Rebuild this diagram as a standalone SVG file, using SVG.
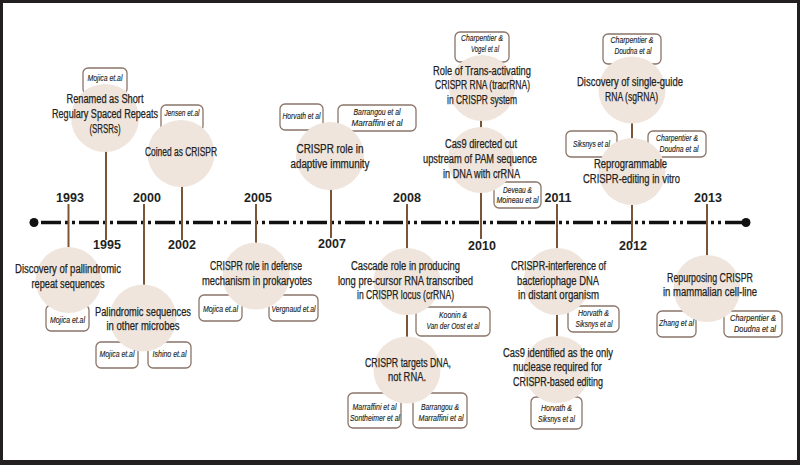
<svg xmlns="http://www.w3.org/2000/svg" width="800" height="465" viewBox="0 0 800 465">
<style>
text{font-family:"Liberation Sans",Arial,sans-serif;fill:#231f20;text-anchor:middle}
.l{font-size:12px;stroke:#231f20;stroke-width:0.25}
.c{font-size:9px;font-style:italic;stroke:#231f20;stroke-width:0.15}
.y{font-size:12.5px;font-weight:bold}
.node circle{fill:#efe5dd}
.box{fill:#fff;stroke:#8b7468;stroke-width:1.3}
.conn line{stroke:#7b5636;stroke-width:2}
</style>
<rect x="0" y="0" width="800" height="465" fill="#231f20"/>
<rect x="3" y="3" width="794" height="457" fill="#fff"/>
<g id="timeline">
<line x1="34" y1="222.5" x2="746" y2="222.5" stroke="#111" stroke-width="3.5" stroke-dasharray="20 4 3 4 3 4" stroke-dashoffset="31"/>
<circle cx="34" cy="222.5" r="4.5" fill="#111"/>
<circle cx="746" cy="222.5" r="4.5" fill="#111"/>
</g>
<g class="conn" id="connectors">
<line x1="68.5" y1="204" x2="68.5" y2="250"/>
<line x1="106" y1="150" x2="106" y2="240"/>
<line x1="144" y1="204" x2="144" y2="288"/>
<line x1="182" y1="185" x2="182" y2="240"/>
<line x1="256" y1="204" x2="256" y2="245"/>
<line x1="331" y1="188" x2="331" y2="238"/>
<line x1="407" y1="204" x2="407" y2="250"/>
<line x1="407" y1="312" x2="407" y2="340"/>
<line x1="481" y1="118" x2="481" y2="130"/>
<line x1="481" y1="190" x2="481" y2="239"/>
<line x1="557" y1="204" x2="557" y2="250"/>
<line x1="557" y1="312" x2="557" y2="339"/>
<line x1="632" y1="121" x2="632" y2="141"/>
<line x1="632" y1="202" x2="632" y2="242"/>
<line x1="707" y1="204" x2="707" y2="258"/>
</g>
<g id="years">
<text class="y" x="70" y="202">1993</text>
<text class="y" x="107" y="249">1995</text>
<text class="y" x="147" y="202">2000</text>
<text class="y" x="182" y="249">2002</text>
<text class="y" x="258" y="202">2005</text>
<text class="y" x="332" y="248">2007</text>
<text class="y" x="407" y="202">2008</text>
<text class="y" x="482" y="250">2010</text>
<text class="y" x="558" y="202">2011</text>
<text class="y" x="633" y="250">2012</text>
<text class="y" x="708" y="202">2013</text>
</g>
<g id="n1993" class="node">
<rect class="box" x="46" y="305" width="43" height="26" rx="5"/>
<circle cx="68.5" cy="280" r="33"/>
<text class="l" x="68" y="273" textLength="106" lengthAdjust="spacingAndGlyphs">Discovery of pallindromic</text>
<text class="l" x="68" y="288" textLength="73" lengthAdjust="spacingAndGlyphs">repeat sequences</text>
<text class="c" x="67.5" y="323" textLength="35" lengthAdjust="spacingAndGlyphs">Mojica et.al</text>
</g>
<g id="n1995" class="node">
<rect class="box" x="83" y="68" width="44" height="26" rx="5"/>
<circle cx="105" cy="118" r="34"/>
<text class="c" x="105" y="81" textLength="35" lengthAdjust="spacingAndGlyphs">Mojica et.al</text>
<text class="l" x="105" y="103" textLength="77" lengthAdjust="spacingAndGlyphs">Renamed as Short</text>
<text class="l" x="105" y="118" textLength="106" lengthAdjust="spacingAndGlyphs">Regulary Spaced Repeats</text>
<text class="l" x="105" y="133" textLength="31" lengthAdjust="spacingAndGlyphs">(SRSRs)</text>
</g>
<g id="n2002" class="node">
<rect class="box" x="161" y="105" width="42" height="26" rx="5"/>
<circle cx="181" cy="153.5" r="33.5"/>
<text class="c" x="182" y="116" textLength="35" lengthAdjust="spacingAndGlyphs">Jensen et.al</text>
<text class="l" x="181" y="156" textLength="72" lengthAdjust="spacingAndGlyphs">Coined as CRISPR</text>
</g>
<g id="n2000" class="node">
<rect class="box" x="96" y="342" width="42" height="26" rx="5"/>
<rect class="box" x="148" y="342" width="43" height="26" rx="5"/>
<circle cx="143" cy="318" r="33.5"/>
<text class="l" x="143" y="316" textLength="96" lengthAdjust="spacingAndGlyphs">Palindromic sequences</text>
<text class="l" x="143" y="330" textLength="73" lengthAdjust="spacingAndGlyphs">in other microbes</text>
<text class="c" x="117" y="357" textLength="35" lengthAdjust="spacingAndGlyphs">Mojica et.al</text>
<text class="c" x="169.5" y="357" textLength="34" lengthAdjust="spacingAndGlyphs">Ishino et.al</text>
</g>
<g id="n2005" class="node">
<rect class="box" x="199" y="295" width="43" height="26" rx="5"/>
<rect class="box" x="269" y="295" width="49" height="26" rx="5"/>
<circle cx="256" cy="276" r="33.5"/>
<text class="l" x="256" y="270" textLength="92" lengthAdjust="spacingAndGlyphs">CRISPR role in defense</text>
<text class="l" x="257" y="285" textLength="110" lengthAdjust="spacingAndGlyphs">mechanism in prokaryotes</text>
<text class="c" x="220.5" y="312" textLength="35" lengthAdjust="spacingAndGlyphs">Mojica et.al</text>
<text class="c" x="293.5" y="312" textLength="44" lengthAdjust="spacingAndGlyphs">Vergnaud et.al</text>
</g>
<g id="n2007" class="node">
<rect class="box" x="280" y="104" width="43" height="26" rx="5"/>
<rect class="box" x="338" y="105" width="78" height="26" rx="5"/>
<circle cx="330" cy="156" r="34"/>
<text class="c" x="301.5" y="119" textLength="38" lengthAdjust="spacingAndGlyphs">Horvath et al</text>
<text class="c" x="377" y="115" textLength="47" lengthAdjust="spacingAndGlyphs">Barrangou et al</text>
<text class="c" x="377" y="126" textLength="51" lengthAdjust="spacingAndGlyphs">Marraffini et al</text>
<text class="l" x="330" y="153" textLength="67" lengthAdjust="spacingAndGlyphs">CRISPR role in</text>
<text class="l" x="330" y="168" textLength="79" lengthAdjust="spacingAndGlyphs">adaptive immunity</text>
</g>
<g id="n2008a" class="node">
<rect class="box" x="416" y="307" width="74" height="29" rx="5"/>
<circle cx="407" cy="281.5" r="33.5"/>
<text class="l" x="405.5" y="270" textLength="109" lengthAdjust="spacingAndGlyphs">Cascade role in producing</text>
<text class="l" x="405.5" y="285" textLength="135" lengthAdjust="spacingAndGlyphs">long pre-cursor RNA transcribed</text>
<text class="l" x="405.5" y="299" textLength="97" lengthAdjust="spacingAndGlyphs">in CRISPR locus (crRNA)</text>
<text class="c" x="453" y="318" textLength="28" lengthAdjust="spacingAndGlyphs">Koonin &amp;</text>
<text class="c" x="453" y="329" textLength="53" lengthAdjust="spacingAndGlyphs">Van der Oost et al</text>
</g>
<g id="n2008b" class="node">
<rect class="box" x="348" y="393" width="53" height="35" rx="5"/>
<rect class="box" x="413" y="393" width="54" height="35" rx="5"/>
<circle cx="407" cy="370" r="33.5"/>
<text class="l" x="408" y="367" textLength="86" lengthAdjust="spacingAndGlyphs">CRISPR targets DNA,</text>
<text class="l" x="407" y="381" textLength="38" lengthAdjust="spacingAndGlyphs">not RNA.</text>
<text class="c" x="374.5" y="410" textLength="44" lengthAdjust="spacingAndGlyphs">Marraffini et al</text>
<text class="c" x="375" y="421" textLength="50" lengthAdjust="spacingAndGlyphs">Sontheimer et al</text>
<text class="c" x="440" y="410" textLength="38" lengthAdjust="spacingAndGlyphs">Barrangou &amp;</text>
<text class="c" x="441" y="421" textLength="45" lengthAdjust="spacingAndGlyphs">Marraffini et al</text>
</g>
<g id="n2010a" class="node">
<rect class="box" x="455" y="32" width="54" height="30" rx="5"/>
<circle cx="482" cy="88" r="33"/>
<text class="c" x="482" y="41" textLength="42" lengthAdjust="spacingAndGlyphs">Charpentier &amp;</text>
<text class="c" x="485" y="52" textLength="28" lengthAdjust="spacingAndGlyphs">Vogel  et al</text>
<text class="l" x="482" y="75" textLength="98" lengthAdjust="spacingAndGlyphs">Role of Trans-activating</text>
<text class="l" x="482.5" y="89" textLength="95" lengthAdjust="spacingAndGlyphs">CRISPR RNA (tracrRNA)</text>
<text class="l" x="482" y="104" textLength="70" lengthAdjust="spacingAndGlyphs">in CRISPR system</text>
</g>
<g id="n2010b" class="node">
<rect class="box" x="494" y="182" width="47" height="26" rx="5"/>
<circle cx="481" cy="160" r="33"/>
<text class="l" x="481" y="148" textLength="72" lengthAdjust="spacingAndGlyphs">Cas9 directed cut</text>
<text class="l" x="480" y="163" textLength="114" lengthAdjust="spacingAndGlyphs">upstream of PAM sequence</text>
<text class="l" x="481.5" y="178" textLength="77" lengthAdjust="spacingAndGlyphs">in DNA with crRNA</text>
<text class="c" x="517.5" y="193" textLength="29" lengthAdjust="spacingAndGlyphs">Deveau &amp;</text>
<text class="c" x="517.5" y="203" textLength="42" lengthAdjust="spacingAndGlyphs">Moineau et al</text>
</g>
<g id="n2011a" class="node">
<rect class="box" x="568" y="306" width="51" height="26" rx="5"/>
<circle cx="557" cy="281.5" r="33.5"/>
<text class="l" x="558.5" y="270" textLength="95" lengthAdjust="spacingAndGlyphs">CRISPR-interference of</text>
<text class="l" x="558" y="285" textLength="82" lengthAdjust="spacingAndGlyphs">bacteriophage DNA</text>
<text class="l" x="558.5" y="299" textLength="81" lengthAdjust="spacingAndGlyphs">in distant organism</text>
<text class="c" x="593.5" y="316" textLength="31" lengthAdjust="spacingAndGlyphs">Horvath &amp;</text>
<text class="c" x="594" y="327" textLength="37" lengthAdjust="spacingAndGlyphs">Siksnys et al</text>
</g>
<g id="n2011b" class="node">
<rect class="box" x="531" y="397" width="51" height="32" rx="5"/>
<circle cx="557" cy="369.5" r="33.5"/>
<text class="l" x="558" y="357" textLength="110" lengthAdjust="spacingAndGlyphs">Cas9 identified as the only</text>
<text class="l" x="557.5" y="371" textLength="89" lengthAdjust="spacingAndGlyphs">nuclease required for</text>
<text class="l" x="558" y="386" textLength="90" lengthAdjust="spacingAndGlyphs">CRISPR-based editing</text>
<text class="c" x="556.5" y="411" textLength="31" lengthAdjust="spacingAndGlyphs">Horvath &amp;</text>
<text class="c" x="556.5" y="422" textLength="37" lengthAdjust="spacingAndGlyphs">Siksnys et al</text>
</g>
<g id="n2012a" class="node">
<rect class="box" x="603" y="34" width="58" height="30" rx="5"/>
<circle cx="632" cy="90" r="33.5"/>
<text class="c" x="632" y="43" textLength="43" lengthAdjust="spacingAndGlyphs">Charpentier &amp;</text>
<text class="c" x="633" y="54" textLength="37" lengthAdjust="spacingAndGlyphs">Doudna et al</text>
<text class="l" x="630" y="86" textLength="106" lengthAdjust="spacingAndGlyphs">Discovery of single-guide</text>
<text class="l" x="631.5" y="101" textLength="53" lengthAdjust="spacingAndGlyphs">RNA (sgRNA)</text>
</g>
<g id="n2012b" class="node">
<rect class="box" x="566" y="131" width="51" height="26" rx="5"/>
<rect class="box" x="648" y="131" width="58" height="26" rx="5"/>
<circle cx="632" cy="171.5" r="33.5"/>
<text class="c" x="591.5" y="147" textLength="37" lengthAdjust="spacingAndGlyphs">Siksnys et al</text>
<text class="c" x="677" y="141" textLength="42" lengthAdjust="spacingAndGlyphs">Charpentier &amp;</text>
<text class="c" x="679" y="152" textLength="39" lengthAdjust="spacingAndGlyphs">Doudna et al</text>
<text class="l" x="630.5" y="168" textLength="73" lengthAdjust="spacingAndGlyphs">Reprogrammable</text>
<text class="l" x="631.5" y="183" textLength="97" lengthAdjust="spacingAndGlyphs">CRISPR-editing  in vitro</text>
</g>
<g id="n2013" class="node">
<rect class="box" x="657" y="311" width="39" height="26" rx="5"/>
<rect class="box" x="724" y="311" width="58" height="26" rx="5"/>
<circle cx="707" cy="288.5" r="33.5"/>
<text class="l" x="710" y="282" textLength="86" lengthAdjust="spacingAndGlyphs">Repurposing CRISPR</text>
<text class="l" x="710" y="296" textLength="94" lengthAdjust="spacingAndGlyphs">in mammalian cell-line</text>
<text class="c" x="676.5" y="326" textLength="35" lengthAdjust="spacingAndGlyphs">Zhang et al</text>
<text class="c" x="753" y="321" textLength="46" lengthAdjust="spacingAndGlyphs">Charpentier &amp;</text>
<text class="c" x="755" y="332" textLength="42" lengthAdjust="spacingAndGlyphs">Doudna et al</text>
</g>
</svg>
